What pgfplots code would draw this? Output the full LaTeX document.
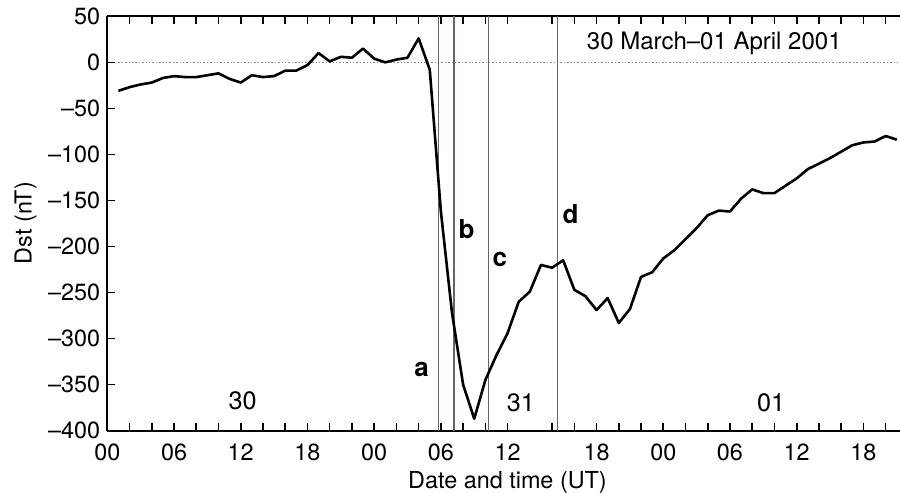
\documentclass[border=0pt]{standalone}
\usepackage{fontspec}
\setmainfont{TeX Gyre Heros}
\usepackage{pgfplots}
\pgfplotsset{compat=1.18}
\definecolor{refline}{RGB}{115,95,95}
\definecolor{zeroline}{RGB}{140,125,140}

\begin{document}
\begin{tikzpicture}[font=\fontsize{11.7}{14}\selectfont]
\begin{axis}[
    scale only axis,
    width=396.35pt, height=207.2pt,
    xmin=0, xmax=71.29,
    ymin=-400, ymax=50,
    enlargelimits=false,
    axis y line*=left,
    axis line style={line width=1pt},
    clip=false,
    xtick={0,2,...,36,40,42,...,70},
    xticklabels={00,,,06,,,12,,,18,,,00,,,06,,,12,,,18,,,00,,,06,,,12,,,18,},
    ytick={-400,-350,...,50},
    yticklabels={--400,--350,--300,--250,--200,--150,--100,--50,0,50},
    tick style={black, line width=0.8pt},
    major tick length=4pt,
    xticklabel style={yshift=-3.2pt},
]
    % reference lines
    \addplot[zeroline, densely dotted, line width=0.7pt] coordinates {(1,0) (71.29,0)};
    \addplot[refline, line width=0.6pt] coordinates {(29.77,-400) (29.77,50)};
    \addplot[refline, line width=0.6pt] coordinates {(31.18,-400) (31.18,50)};
    \addplot[refline, line width=0.6pt] coordinates {(34.26,-400) (34.26,50)};
    \addplot[refline, line width=0.6pt] coordinates {(40.50,-400) (40.50,50)};

    % hourly Dst
    \addplot[black, line width=1.3pt, line join=round] coordinates {
        (1,-31) (2,-27) (3,-24) (4,-22) (5,-17) (6,-15) (7,-16) (8,-16)
        (9,-14) (10,-12) (11,-18) (12,-22) (13,-14) (14,-16) (15,-15) (16,-9)
        (17,-9) (18,-3) (19,10) (20,1) (21,6) (22,5) (23,15) (24,4)
        (25,0) (26,3) (27,5) (28,26) (29,-8) (30,-162) (31,-272) (32,-350)
        (33,-387) (34,-345) (35,-318) (36,-294) (37,-260) (38,-249) (39,-220) (40,-223)
        (41,-215) (42,-247) (43,-254) (44,-269) (45,-256) (46,-283) (47,-268) (48,-233)
        (49,-228) (50,-213) (51,-204) (52,-192) (53,-180) (54,-166) (55,-161) (56,-162)
        (57,-148) (58,-138) (59,-142) (60,-142) (61,-134) (62,-126) (63,-116) (64,-110)
        (65,-104) (66,-97) (67,-90) (68,-87) (69,-86) (70,-80) (71,-84)
    };

    % labels
    \node[anchor=base west, font=\fontsize{12}{14.4}\selectfont] at (axis cs:42.5,13.4) {30 March--01 April 2001};
    \node[anchor=base, font=\fontsize{12.6}{15}\selectfont] at (axis cs:12.16,-376.8) {30};
    \node[anchor=base, font=\fontsize{12.6}{15}\selectfont] at (axis cs:37.19,-379.3) {31};
    \node[anchor=base, font=\fontsize{12.6}{15}\selectfont] at (axis cs:59.7,-379) {01};
    \node[anchor=base, font=\fontsize{13}{15.6}\selectfont\bfseries] at (axis cs:28.27,-341.4) {a};
    \node[anchor=base, font=\fontsize{13}{15.6}\selectfont\bfseries] at (axis cs:32.32,-191) {b};
    \node[anchor=base, font=\fontsize{13}{15.6}\selectfont\bfseries] at (axis cs:35.31,-222) {c};
    \node[anchor=base, font=\fontsize{13}{15.6}\selectfont\bfseries] at (axis cs:41.67,-174.8) {d};

    \node[anchor=base] at (axis cs:35.99,-462.5) {Date and time (UT)};
    \node[anchor=base, rotate=90] at (axis cs:-6.8,-174.5) {Dst (nT)};

    \coordinate (bbsw) at (rel axis cs:0,0);
    \coordinate (bbne) at (rel axis cs:1,1);
\end{axis}
\pgfresetboundingbox
\path ([shift={(-53.65pt,-31.15pt)}]bbsw) rectangle ([shift={(0pt,8.15pt)}]bbne);
\end{tikzpicture}
\end{document}
